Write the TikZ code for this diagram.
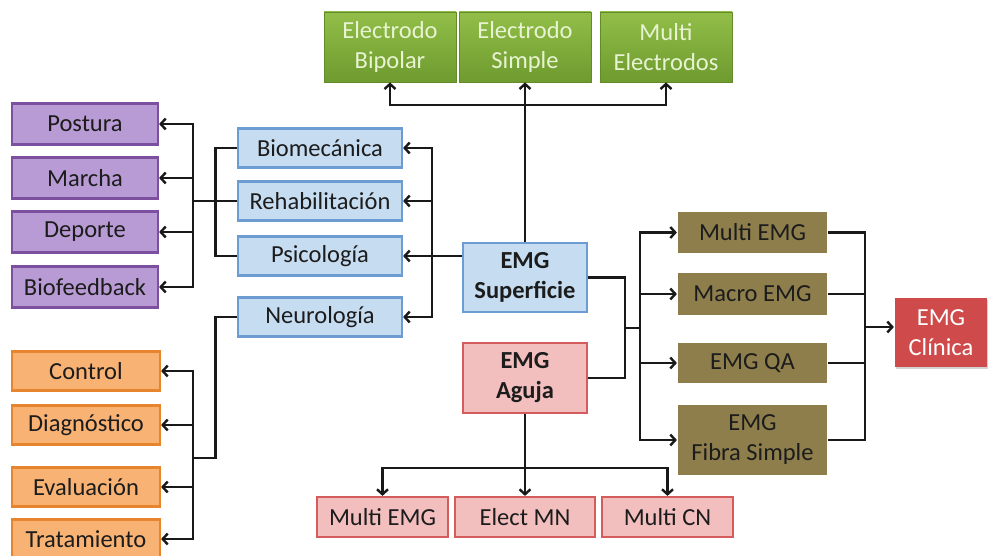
\documentclass[tikz,border=0pt]{standalone}
\usepackage{fontspec}
\setmainfont{Carlito}
\usetikzlibrary{arrows.meta,shadows}
\definecolor{grnA}{HTML}{92BE48}
\definecolor{grnB}{HTML}{6E9B2F}
\definecolor{grnT}{HTML}{E8F3D2}
\definecolor{purF}{HTML}{B89BD4}
\definecolor{purD}{HTML}{7D509F}
\definecolor{bluF}{HTML}{C6DCF1}
\definecolor{bluD}{HTML}{6C9CD2}
\definecolor{orF}{HTML}{F8B274}
\definecolor{orD}{HTML}{E7852F}
\definecolor{tanF}{HTML}{8D7E4B}
\definecolor{pnkF}{HTML}{F2BEBE}
\definecolor{pnkD}{HTML}{D45C5C}
\definecolor{redF}{HTML}{CF4B4B}
\definecolor{txt}{HTML}{1C1C1C}
\begin{document}
\begin{tikzpicture}[x=1pt,y=-1pt,
  box/.style={rectangle,inner sep=0pt,align=center,text=txt,
    font=\fontsize{24.5}{30}\selectfont,line width=2.2pt},
  grn/.style={box,top color=grnA,bottom color=grnB,draw=grnB!90!black,line width=0.8pt,text=grnT,
    minimum width=132pt,minimum height=70pt},
  pur/.style={box,fill=purF,draw=purD,minimum width=146pt,minimum height=41pt},
  blu/.style={box,fill=bluF,draw=bluD,minimum width=164pt,minimum height=39pt},
  org/.style={box,fill=orF,draw=orD,minimum width=148pt,minimum height=39pt},
  tan/.style={box,fill=tanF,minimum width=149pt},
  pnk/.style={box,fill=pnkF,draw=pnkD},
  wire/.style={line width=2.9pt,black!90},
  arr/.style={wire,-{Straight Barb[length=5pt,width=11pt,line width=2.4pt]}}]
\useasboundingbox (0,0) rectangle (994,556);
\fill[white] (0,0) rectangle (994,556);

% electrode types
\node[grn] (g1) at (390,47) {Electrodo\\Bipolar};
\node[grn] (g2) at (525,47) {Electrodo\\Simple};
\node[grn] (g3) at (666,47) {Multi\\Electrodos};

% application areas
\node[pur] (pos) at (85,124) {Postura};
\node[pur] (mar) at (85,178) {Marcha};
\node[pur] (dep) at (85,232) {Deporte};
\node[pur] (bio2) at (85,287) {Biofeedback};

\node[blu] (bio) at (320,148) {Biomecánica};
\node[blu] (reh) at (320,201) {Rehabilitación};
\node[blu] (psi) at (320,256) {Psicología};
\node[blu] (neu) at (320,317) {Neurología};

\node[org] (con) at (86,371) {Control};
\node[org] (dia) at (86,425) {Diagnóstico};
\node[org] (eva) at (86,487) {Evaluación};
\node[org] (tra) at (86,539) {Tratamiento};

% main EMG kinds
\node[box,fill=bluF,draw=bluD,minimum width=124pt,minimum height=69pt,font=\fontsize{24.5}{30}\selectfont\bfseries] (sup) at (525,277.5) {EMG\\Superficie};
\node[box,fill=pnkF,draw=pnkD,minimum width=124pt,minimum height=70pt,font=\fontsize{24.5}{30}\selectfont\bfseries] (agu) at (525,378) {EMG\\Aguja};

% clinical techniques
\node[tan,minimum height=41pt] (t1) at (752.5,232.5) {Multi EMG};
\node[tan,minimum height=42pt] (t2) at (752.5,294) {Macro EMG};
\node[tan,minimum height=40pt] (t3) at (752.5,363) {EMG QA};
\node[tan,minimum height=70pt] (t4) at (752.5,440) {EMG\\Fibra Simple};
\node[box,fill=redF,text=white,minimum width=92pt,minimum height=69pt,
  drop shadow={shadow xshift=1pt,shadow yshift=-2pt,fill=black!35}] (cli) at (941,332.5) {EMG\\Clínica};

% needle electrodes
\node[pnk,minimum width=131pt,minimum height=40pt] (b1) at (382.5,517) {Multi EMG};
\node[pnk,minimum width=140pt,minimum height=40pt] (b2) at (525,517) {Elect MN};
\node[pnk,minimum width=131pt,minimum height=40pt] (b3) at (667.5,517) {Multi CN};

% junction points
\coordinate (tb) at (525,105);
\coordinate (bb) at (432,256);
\coordinate (pb) at (193,201);
\coordinate (ob) at (193,458);
\coordinate (mj) at (625,328);
\coordinate (tj) at (640,328);
\coordinate (rb) at (865,327);
\coordinate (db) at (525,468);

% superficie -> electrodes
\draw[arr] (sup.north) -- (g2.south);
\draw[arr] (tb) -| (g1.south);
\draw[arr] (tb) -| (g3.south);

% superficie -> areas
\draw[arr] (sup.west |- psi.east) -- (psi.east);
\draw[arr] (bb) |- (bio.east);
\draw[arr] (bb) |- (reh.east);
\draw[arr] (bb) |- (neu.east);

% areas -> uses
\draw[wire] (bio.west) -- ++(-21,0) |- (psi.west);
\draw[wire] (reh.west) -- (pb);
\draw[arr] (pb) |- (pos.east);
\draw[arr] (pb) |- (mar.east);
\draw[arr] (pb) |- (dep.east);
\draw[arr] (pb) |- (bio2.east);

\draw[wire] (neu.west) -- ++(-21,0) |- (ob);
\draw[arr] (ob) |- (con.east);
\draw[arr] (ob) |- (dia.east);
\draw[arr] (ob) |- (eva.east);
\draw[arr] (ob) |- (tra.east);

% both kinds -> clinical techniques
\draw[wire] (sup.east) -| (mj) |- (agu.east);
\draw[wire] (mj) -- (tj);
\draw[arr] (tj) |- (t1.west);
\draw[arr] (tj) |- (t2.west);
\draw[arr] (tj) |- (t3.west);
\draw[arr] (tj) |- (t4.west);

\draw[wire] (t1.east) -| (rb);
\draw[wire] (t2.east) -| (rb);
\draw[wire] (t3.east) -| (rb);
\draw[wire] (t4.east) -| (rb);
\draw[arr] (rb) -- (rb -| cli.west);

% aguja -> needle electrodes
\draw[arr] (agu.south) -- (b2.north);
\draw[arr] (db) -| (b1.north);
\draw[arr] (db) -| (b3.north);
\end{tikzpicture}
\end{document}
